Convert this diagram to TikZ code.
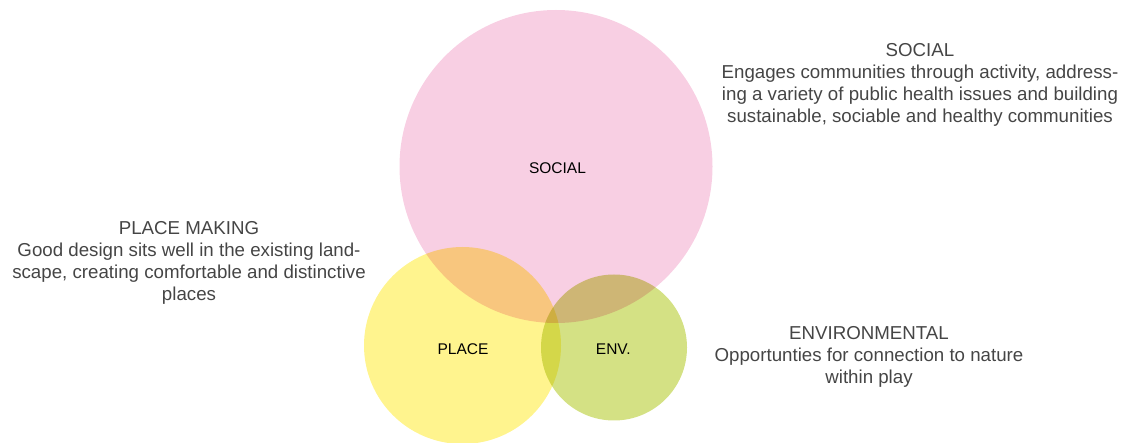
\documentclass[tikz,border=0pt]{standalone}
\usepackage{fontspec}
\setmainfont{Liberation Sans}
\definecolor{pinkc}{HTML}{F8CFE3}
\definecolor{yellowc}{HTML}{FFF48E}
\definecolor{greenc}{HTML}{D4E184}
\definecolor{desc}{HTML}{454545}
\tikzset{
  venn/.style={circle, inner sep=0pt, draw=none},
  clabel/.style={font=\fontsize{15.5}{18}\selectfont, text=black, inner sep=0pt},
  desctext/.style={font=\fontsize{18.7}{22}\selectfont, text=desc, align=center, inner sep=0pt, anchor=north}
}
\begin{document}
\begin{tikzpicture}[x=1pt,y=-1pt]
\useasboundingbox (0,0) rectangle (1122,443);
\begin{scope}[blend group=multiply]
  \node[venn, fill=pinkc, minimum size=313pt] (social) at (556,166.5) {};
  \node[venn, fill=yellowc, minimum size=197pt] (place) at (462.5,345.5) {};
  \node[venn, fill=greenc, minimum size=146pt] (env) at (614,347.5) {};
\end{scope}
\node[clabel] (lsocial) at (557.5,168.3) {SOCIAL};
\node[clabel] (lplace) at (463,349.2) {PLACE};
\node[clabel] (lenv) at (613.3,349) {ENV.};
\node[desctext] (dsocial) at (920,43) {SOCIAL\\Engages communities through activity, address-\\ing a variety of public health issues and building\\sustainable, sociable and healthy communities};
\node[desctext] (dplace) at (189,221.5) {PLACE MAKING\\Good design sits well in the existing land-\\scape, creating comfortable and distinctive\\places};
\node[desctext] (denv) at (869,326) {ENVIRONMENTAL\\Opportunties for connection to nature\\within play};
\end{tikzpicture}
\end{document}
